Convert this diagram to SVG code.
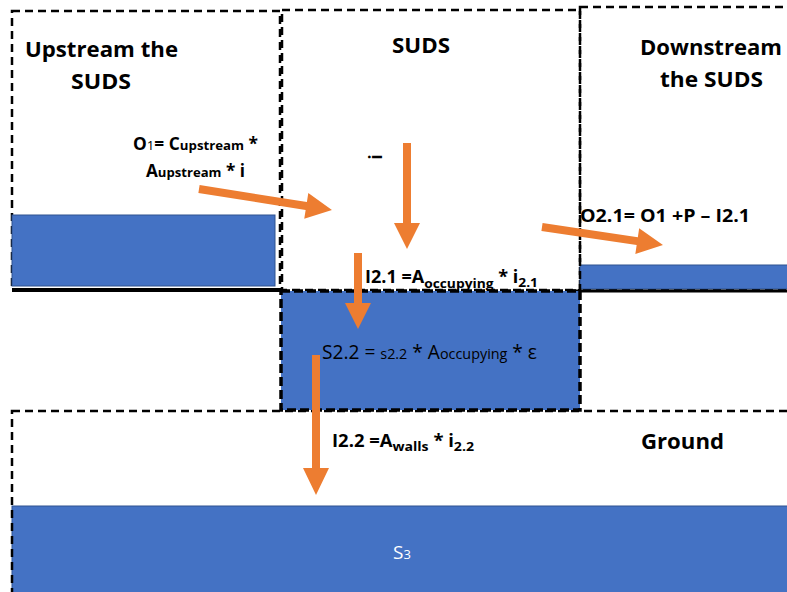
<svg xmlns="http://www.w3.org/2000/svg" width="787" height="592" viewBox="0 0 787 592">
<style>
.zone{fill:none;stroke:#000;stroke-width:2.5;stroke-dasharray:8,5}
.water{fill:#4472C4;stroke:#2F528F;stroke-width:1}
.arrow{fill:#ED7D31}
.h{font-family:"Open Sans","Liberation Sans",sans-serif;font-weight:bold;font-size:21px;fill:#000}
.f{font-family:"Open Sans","Liberation Sans",sans-serif;font-weight:bold;font-size:17px;fill:#000}
.r{font-family:"Open Sans","Liberation Sans",sans-serif;font-size:20px;fill:#000}
</style>
<rect width="787" height="592" fill="#fff"/>
<g id="ground">
<rect class="water" x="12" y="506" width="780" height="90"/>
<rect class="zone" x="12" y="411" width="780" height="190"/>
<text class="h" x="641" y="449" textLength="83" lengthAdjust="spacingAndGlyphs">Ground</text>
<text x="402" y="559" text-anchor="middle" font-family="Open Sans, Liberation Sans, sans-serif" font-size="19" fill="#fff">S<tspan font-size="13">3</tspan></text>
</g>
<g id="upstream">
<rect class="zone" x="12" y="11" width="268" height="279"/>
<rect class="water" x="12" y="215" width="263" height="71"/>
<line x1="12" y1="290" x2="283" y2="290" stroke="#000" stroke-width="4"/>
<text class="h" x="25" y="57" textLength="153" lengthAdjust="spacingAndGlyphs">Upstream the</text>
<text class="h" x="71" y="89" textLength="60" lengthAdjust="spacingAndGlyphs">SUDS</text>
<text class="f" x="133" y="150" textLength="125" lengthAdjust="spacingAndGlyphs">O<tspan font-size="13" font-weight="normal">1</tspan>= C<tspan font-size="13">upstream</tspan> *</text>
<text class="f" x="146" y="177" textLength="99" lengthAdjust="spacingAndGlyphs">A<tspan font-size="13">upstream</tspan> * i</text>
</g>
<g id="downstream">
<rect class="zone" x="580" y="7" width="215" height="283"/>
<rect class="water" x="580" y="265" width="212" height="24"/>
<line x1="568" y1="291" x2="787" y2="291" stroke="#000" stroke-width="3"/>
<text class="h" x="640" y="55" textLength="142" lengthAdjust="spacingAndGlyphs">Downstream</text>
<text class="h" x="660" y="87" textLength="103" lengthAdjust="spacingAndGlyphs">the SUDS</text>
<text class="f" x="580" y="222" textLength="170" lengthAdjust="spacingAndGlyphs">O2.1= O1 +P – I2.1</text>
</g>
<g id="suds">
<rect class="zone" x="282" y="10" width="298" height="280"/>
<text class="h" x="392" y="53" textLength="58" lengthAdjust="spacingAndGlyphs">SUDS</text>
<text class="f" transform="translate(382,157) rotate(-90)" text-anchor="middle" font-weight="normal">i</text>
<text class="f" x="365" y="283" textLength="173" lengthAdjust="spacingAndGlyphs">I2.1 =A<tspan font-size="13" dy="5">occupying</tspan><tspan dy="-5"> * i</tspan><tspan font-size="13" dy="4">2.1</tspan></text>
</g>
<g id="storage">
<rect x="281" y="291" width="299" height="119" fill="#4472C4" stroke="#000" stroke-width="3.5" stroke-dasharray="9,4"/>
<text class="r" x="322" y="359" textLength="215" lengthAdjust="spacingAndGlyphs">S2.2 = <tspan font-size="15">s2.2</tspan> * A<tspan font-size="15">occupying</tspan> * ε</text>
</g>
<g id="infiltration-label">
<text class="f" x="332" y="447" textLength="142" lengthAdjust="spacingAndGlyphs">I2.2 =A<tspan font-size="13" dy="4">walls</tspan><tspan dy="-4"> * i</tspan><tspan font-size="13" dy="4">2.2</tspan></text>
</g>
<g id="connectors">
<polygon class="arrow" transform="translate(199,189) rotate(8.97)" points="0,-4 108.6,-4 108.6,-13 134.6,0 108.6,13 108.6,4 0,4"/>
<polygon class="arrow" transform="translate(542,227) rotate(8.46)" points="0,-4 96.3,-4 96.3,-13 122.3,0 96.3,13 96.3,4 0,4"/>
<polygon class="arrow" transform="translate(407,143) rotate(90)" points="0,-4 80,-4 80,-13 106,0 80,13 80,4 0,4"/>
<polygon class="arrow" transform="translate(358,253) rotate(90)" points="0,-4 50,-4 50,-13 76,0 50,13 50,4 0,4"/>
<polygon class="arrow" transform="translate(316,355) rotate(90)" points="0,-4 113,-4 113,-13 140,0 113,13 113,4 0,4"/>
</g>
</svg>
